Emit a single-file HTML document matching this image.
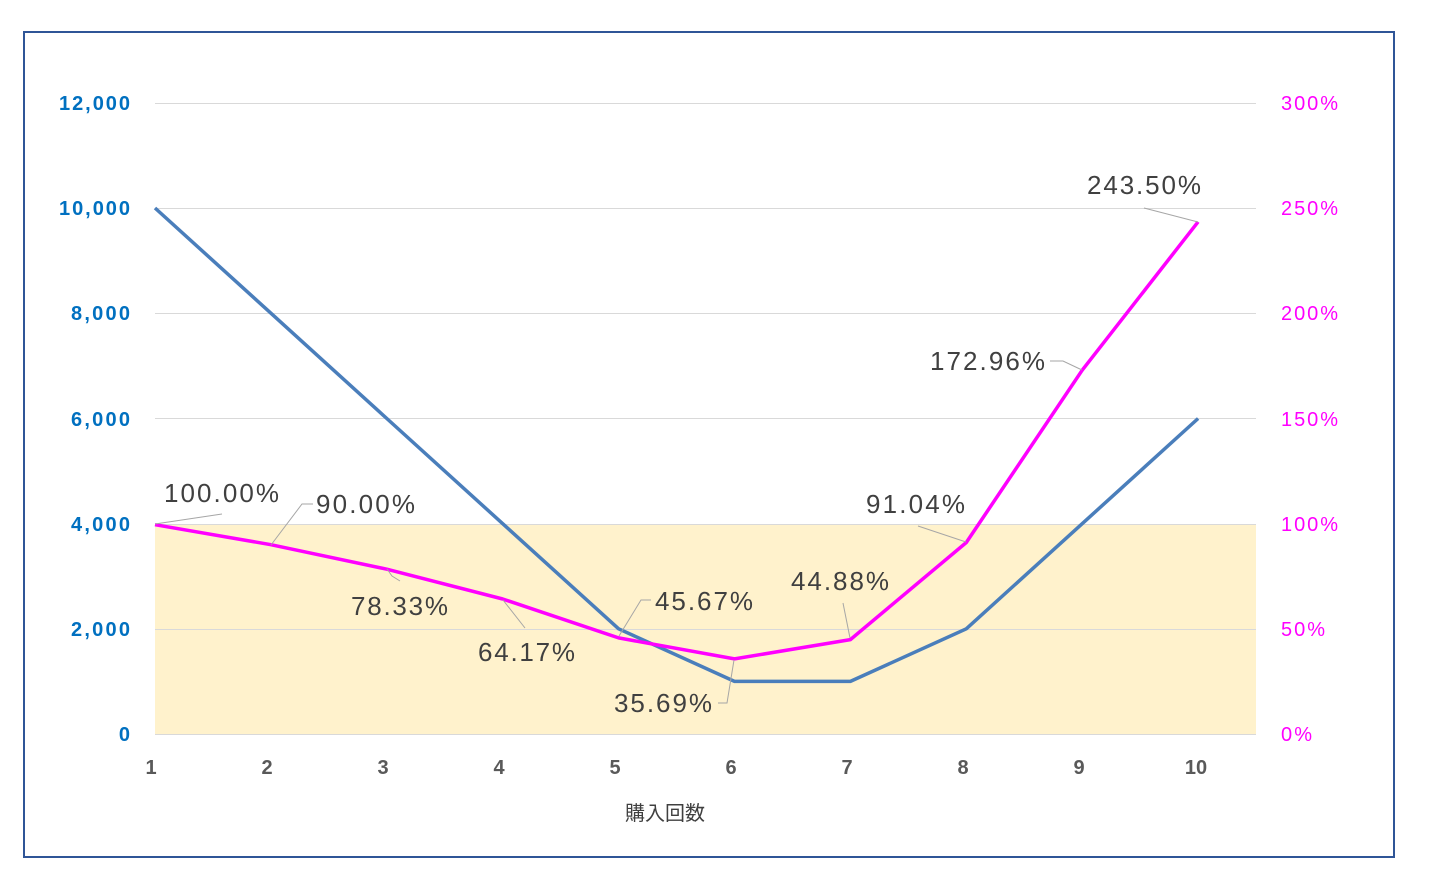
<!DOCTYPE html>
<html><head><meta charset="utf-8"><style>
body{margin:0;background:#fff;}
svg{display:block;font-family:"Liberation Sans","Noto Sans CJK JP",sans-serif;}
</style></head><body>
<svg width="1441" height="873" viewBox="0 0 1441 873" xmlns="http://www.w3.org/2000/svg">
<rect x="0" y="0" width="1441" height="873" fill="#fff"/>
<rect x="24" y="32" width="1370" height="825" fill="#fff" stroke="#2F5597" stroke-width="2"/>
<rect x="155" y="524" width="1101" height="210" fill="#FFF2CC"/>
<g stroke="#D9D9D9" stroke-width="1">
<line x1="155" y1="103.5" x2="1256" y2="103.5"/>
<line x1="155" y1="208.5" x2="1256" y2="208.5"/>
<line x1="155" y1="313.5" x2="1256" y2="313.5"/>
<line x1="155" y1="418.5" x2="1256" y2="418.5"/>
<line x1="155" y1="524.5" x2="1256" y2="524.5"/>
<line x1="155" y1="629.5" x2="1256" y2="629.5"/>
<line x1="155" y1="734.5" x2="1256" y2="734.5"/>
</g>
<g font-size="20" font-weight="bold" fill="#0070C0" text-anchor="end">
<text x="130" y="110" textLength="71">12,000</text>
<text x="130" y="215" textLength="71">10,000</text>
<text x="130" y="320" textLength="59">8,000</text>
<text x="130" y="426" textLength="59">6,000</text>
<text x="130" y="531" textLength="59">4,000</text>
<text x="130" y="636" textLength="59">2,000</text>
<text x="130" y="741">0</text>
</g>
<g font-size="20" fill="#FF00FF">
<text x="1281" y="110" textLength="57">300%</text>
<text x="1281" y="215" textLength="57">250%</text>
<text x="1281" y="320" textLength="57">200%</text>
<text x="1281" y="426" textLength="57">150%</text>
<text x="1281" y="531" textLength="57">100%</text>
<text x="1281" y="636" textLength="44">50%</text>
<text x="1281" y="741" textLength="31">0%</text>
</g>
<g font-size="20" font-weight="bold" fill="#595959" text-anchor="middle">
<text x="151" y="774">1</text><text x="267" y="774">2</text><text x="383" y="774">3</text>
<text x="499" y="774">4</text><text x="615" y="774">5</text><text x="731" y="774">6</text>
<text x="847" y="774">7</text><text x="963" y="774">8</text><text x="1079" y="774">9</text>
<text x="1196" y="774">10</text>
</g>
<text x="665" y="820" font-size="20" fill="#404040" text-anchor="middle">購入回数</text>
<polyline fill="none" stroke="#4A7EBB" stroke-width="3.5" stroke-linejoin="round"
 points="155,208 270.9,313.2 386.8,418.5 502.7,523.7 618.6,628.8 734.5,681.4 850.4,681.4 966.3,628.8 1082.2,523.7 1198.1,418.5"/>
<polyline fill="none" stroke="#FF00FF" stroke-width="3.5" stroke-linejoin="round"
 points="155,524.7 270.9,544.7 386.8,569.2 502.7,599 618.6,637.9 734.5,658.9 850.4,639.6 966.3,542.5 1082.2,370.2 1198.1,221.8"/>
<g stroke="#A6A6A6" stroke-width="1" fill="none">
<polyline points="222,514 155,524"/>
<polyline points="313,504 302,504 271,545"/>
<polyline points="400,581 392,576 387,569"/>
<polyline points="525,628 503,600"/>
<polyline points="651,600 641,600 619,636"/>
<polyline points="718,703 727,703 734,660"/>
<polyline points="843,603 850,638"/>
<polyline points="918,526 966,542"/>
<polyline points="1050,361 1063,361 1082,370"/>
<polyline points="1144,208 1198,222"/>
</g>
<g font-size="26" fill="#404040">
<text x="164" y="502" textLength="115">100.00%</text>
<text x="316" y="513" textLength="99">90.00%</text>
<text x="351" y="615" textLength="97">78.33%</text>
<text x="478" y="661" textLength="97">64.17%</text>
<text x="655" y="610" textLength="98">45.67%</text>
<text x="614" y="712" textLength="98">35.69%</text>
<text x="791" y="590" textLength="98">44.88%</text>
<text x="866" y="513" textLength="99">91.04%</text>
<text x="930" y="370" textLength="115">172.96%</text>
<text x="1087" y="194" textLength="114">243.50%</text>
</g>
</svg>
</body></html>
